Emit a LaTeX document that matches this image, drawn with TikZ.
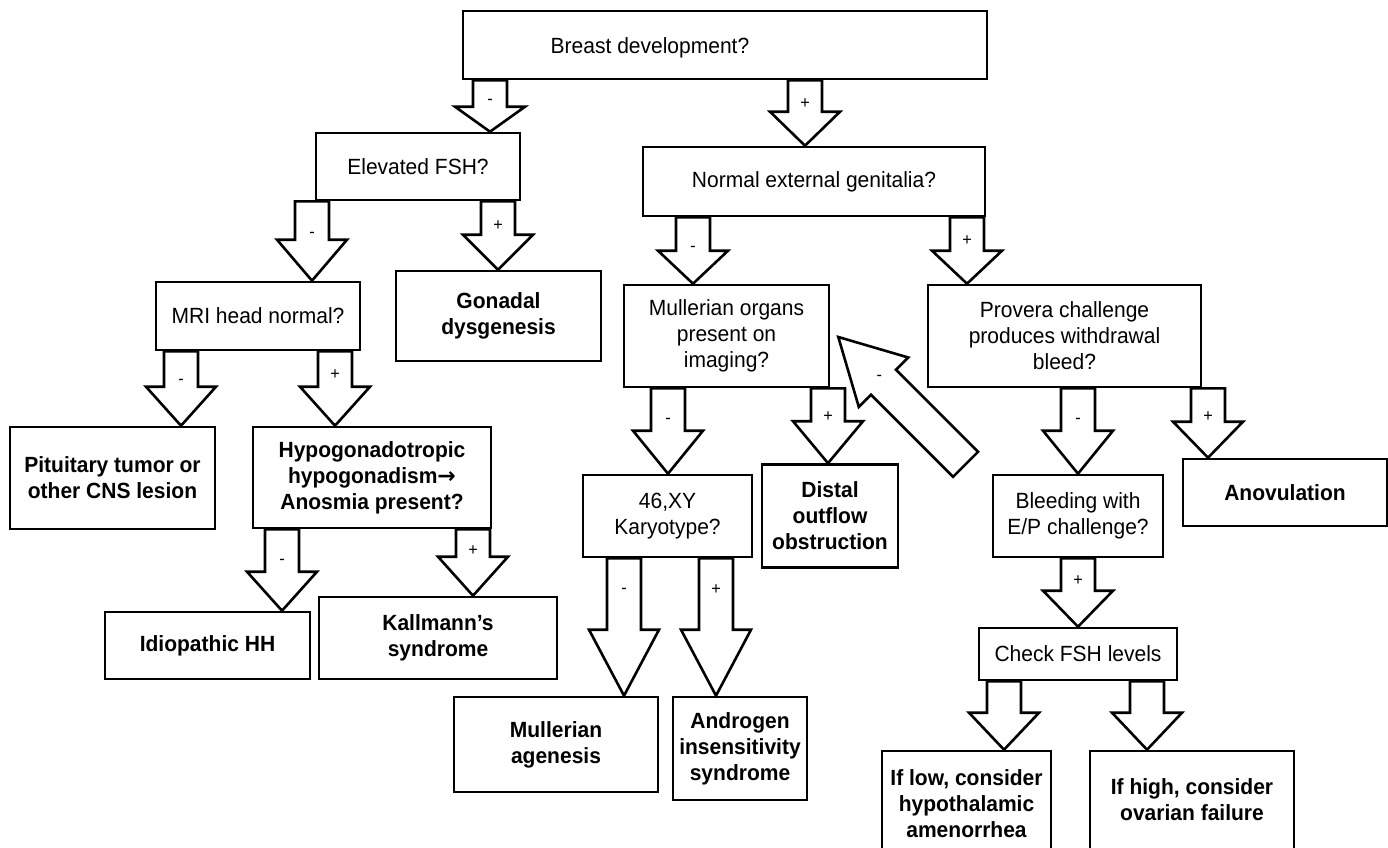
\documentclass[tikz,border=0pt]{standalone}
\usepackage{fontspec}
\setmainfont{Liberation Sans}[FakeStretch=0.955]
\newfontfamily\arrowfont{DejaVu Sans}
\usetikzlibrary{calc}

% Hollow block arrow from the bottom of one box to the top of another.
% #1 x position, #2 source node, #3 target node, #4 head length,
% #5 label, #6 label lift above the head base
\newcommand{\blkarrow}[6]{%
  \path[blk] let \p1=(#2.south), \p2=(#3.north) in
    ({#1pt-17pt},\y1) -- ({#1pt-17pt},{\y2+#4pt}) -- ({#1pt-35pt},{\y2+#4pt})
    -- (#1pt,\y2)
    -- ({#1pt+35pt},{\y2+#4pt}) -- ({#1pt+17pt},{\y2+#4pt}) -- ({#1pt+17pt},\y1) -- cycle
    ({#1pt},{\y2+#4pt+#6pt}) node[lbl] {#5};
}

\begin{document}
\begin{tikzpicture}[x=1pt,y=-1pt,
  wh/.style 2 args={minimum width=#1pt, minimum height=#2pt},
  qbox/.style={draw, line width=2.6pt, fill=white, inner sep=0pt, align=center,
    font=\fontsize{22}{26}\selectfont},
  rbox/.style={qbox, font=\fontsize{22}{26}\selectfont\bfseries},
  qtext/.style={inner sep=0pt, font=\fontsize{22}{26}\selectfont},
  blk/.style={draw, fill=white, line width=2.6pt, line join=miter},
  lbl/.style={inner sep=0pt, text height=0.7em, text depth=0.2em,
    font=\fontsize{17}{20}\selectfont}]

\useasboundingbox (0,0) rectangle (1388,847);

% question boxes
\node[qbox, wh={524}{68}] (breast) at (725,45) {};
\node[qtext] (breastq) at (650,48) {Breast development?};
\node[qbox, wh={204}{67}] (elev) at (418,166.5) {Elevated FSH?};
\node[qbox, wh={342}{69}] (normal) at (814,181.5) {Normal external genitalia?};
\node[qbox, wh={204}{68}] (mri) at (258,316) {MRI head normal?};
\node[qbox, wh={205}{102}] (mull) at (726.5,336) {Mullerian organs\\present on\\imaging?};
\node[qbox, wh={273}{102}] (provera) at (1064.5,336) {Provera challenge\\produces withdrawal\\bleed?};
\node[qbox, wh={169}{82}] (karyo) at (667.5,516) {46,XY\\Karyotype?};
\node[qbox, wh={170}{82}] (bleed) at (1078,516) {Bleeding with\\E/P challenge?};
\node[qbox, wh={198}{52}] (check) at (1078,654) {Check FSH levels};

% result boxes
\node[rbox, wh={205}{90}] (gonadal) at (498.5,316) {Gonadal\\dysgenesis};
\node[rbox, wh={205}{102}] (pit) at (112.5,478) {Pituitary tumor or\\other CNS lesion};
\node[rbox, wh={238}{101}] (hypo) at (372,477.5) {Hypogonadotropic\\hypogonadism{\arrowfont\bfseries →}\\Anosmia present?};
\node[rbox, wh={136}{103}] (distal) at (830,516) {Distal\\outflow\\obstruction};
\node[rbox, wh={204}{67}] (anov) at (1285,492.5) {Anovulation};
\node[rbox, wh={205}{67}] (idio) at (207.5,645.5) {Idiopathic HH};
\node[rbox, wh={238}{82}] (kall) at (438,638) {Kallmann’s\\syndrome};
\node[rbox, wh={204}{95}] (agen) at (556,744.5) {Mullerian\\agenesis};
\node[rbox, wh={134}{103}] (andro) at (740,748.5) {Androgen\\insensitivity\\syndrome};
\node[rbox, wh={169}{106}] (low) at (966.5,804) {If low, consider\\hypothalamic\\amenorrhea};
\node[rbox, wh={204}{98}] (high) at (1192,800) {If high, consider\\ovarian failure};

% block arrows
\blkarrow{490}{breast}{elev}{25}{-}{5}
\blkarrow{805}{breast}{normal}{34}{+}{6}
\blkarrow{312}{elev}{mri}{41}{-}{5}
\blkarrow{498}{elev}{gonadal}{35}{+}{7}
\blkarrow{181}{mri}{pit}{39}{-}{5}
\blkarrow{335}{mri}{hypo}{39}{+}{10}
\blkarrow{282}{hypo}{idio}{39}{-}{10}
\blkarrow{473}{hypo}{kall}{39}{+}{4}
\blkarrow{693}{normal}{mull}{33}{-}{2}
\blkarrow{967}{normal}{provera}{33}{+}{8}
\blkarrow{668}{mull}{karyo}{43}{-}{10}
\blkarrow{828}{mull}{distal}{42}{+}{2}
\blkarrow{624}{karyo}{agen}{66}{-}{39}
\blkarrow{716}{karyo}{andro}{66}{+}{38}
\blkarrow{1078}{provera}{bleed}{43}{-}{10}
\blkarrow{1208}{provera}{anov}{36}{+}{3}
\blkarrow{1078}{bleed}{check}{36}{+}{8}
\blkarrow{1004}{check}{low}{37}{}{0}
\blkarrow{1147}{check}{high}{37}{}{0}

% slanted arrow pointing back at the Mullerian organs box
\coordinate (backtip) at ($(mull.east)+(8,1)$);
\begin{scope}[shift={(backtip)}, rotate=-45]
  \path[blk] (0,0) -- (64,-35) -- (64,-17.7) -- (180,-17.7) -- (180,17.7)
    -- (64,17.7) -- (64,35) -- cycle;
  \node[lbl] (backlbl) at (58,0) {-};
\end{scope}

\end{tikzpicture}
\end{document}
